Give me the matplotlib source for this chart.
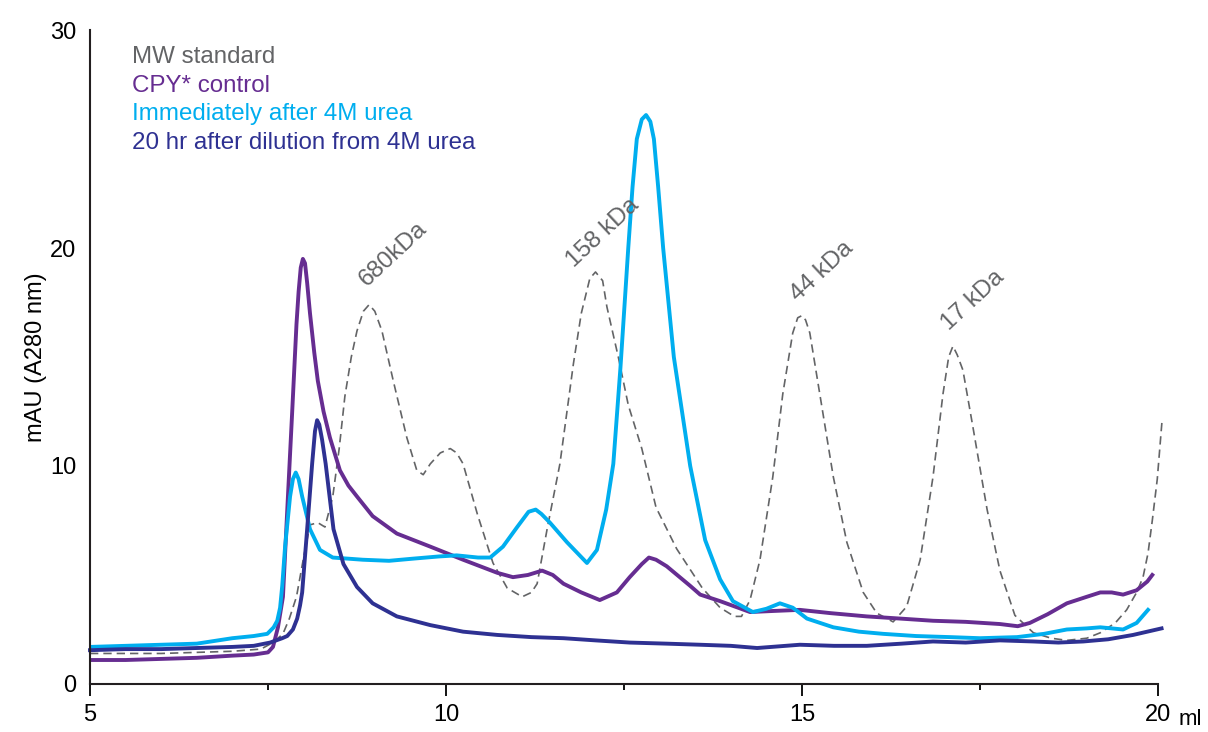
import numpy as np
import matplotlib
matplotlib.use('Agg')
import matplotlib.pyplot as plt

plt.rcParams['font.family'] = ['Liberation Sans', 'DejaVu Sans']

# elution volume (ml) / absorbance (mAU)
mw_ml = [5.0, 6.0, 7.0, 7.4, 7.57, 7.71, 7.8, 7.9, 8.0, 8.09, 8.2, 8.3, 8.41, 8.5, 8.58, 8.67,
         8.75, 8.84, 8.92, 9.0, 9.1, 9.26, 9.45, 9.59, 9.68, 9.78, 9.92, 10.06, 10.15, 10.24,
         10.44, 10.66, 10.86, 11.07, 11.2, 11.28, 11.42, 11.6, 11.79, 11.9, 12.02, 12.1, 12.2,
         12.26, 12.42, 12.56, 12.75, 12.95, 13.24, 13.6, 13.85, 14.05, 14.15, 14.27, 14.41,
         14.59, 14.73, 14.87, 14.94, 15.0, 15.05, 15.11, 15.25, 15.44, 15.63, 15.86, 16.05,
         16.28, 16.47, 16.66, 16.84, 16.98, 17.06, 17.12, 17.18, 17.26, 17.4, 17.6, 17.78,
         17.99, 18.25, 18.5, 18.72, 19.0, 19.19, 19.4, 19.56, 19.7, 19.79, 19.86, 19.92, 19.99,
         20.06]
mw_mau = [1.4, 1.4, 1.5, 1.6, 1.9, 2.3, 3.0, 4.0, 5.8, 7.3, 7.4, 7.2, 8.6, 10.8, 13.2, 15.0,
          16.2, 17.1, 17.4, 17.1, 16.2, 13.9, 11.3, 9.8, 9.6, 10.1, 10.6, 10.8, 10.6, 10.1,
          7.8, 5.55, 4.4, 4.0, 4.2, 4.6, 7.1, 10.1, 14.7, 17.0, 18.6, 18.9, 18.5,
          17.3, 15.0, 12.8, 10.8, 8.1, 6.2, 4.4, 3.5, 3.1, 3.1, 3.85, 5.7,
          9.5, 13.3, 16.1, 16.8, 16.9, 16.7, 16.1, 13.3, 9.5, 6.5, 4.2, 3.25,
          2.85, 3.55, 5.7, 9.5, 13.3, 15.0, 15.5, 15.1, 14.4, 11.8, 8.0, 5.2,
          3.15, 2.35, 2.1, 2.0, 2.1, 2.35, 2.8, 3.4, 4.2, 4.9, 6.0, 7.5, 9.4,
          12.2]

cpy_ml = [5.0, 5.5, 6.0, 6.5, 7.0, 7.3, 7.5, 7.57, 7.64, 7.71, 7.78, 7.84, 7.9, 7.93, 7.96,
          7.99, 8.02, 8.05, 8.09, 8.15, 8.2, 8.28, 8.37, 8.51, 8.63, 8.75, 8.97, 9.31, 9.78,
          10.24, 10.72, 10.94, 11.15, 11.35, 11.5, 11.65, 11.9, 12.16, 12.4, 12.58, 12.75,
          12.85, 12.95, 13.1, 13.43, 13.57, 13.85, 14.27, 14.6, 14.97, 15.4, 15.91, 16.38,
          16.84, 17.3, 17.54, 17.78, 18.03, 18.2, 18.45, 18.72, 19.0, 19.19, 19.35, 19.51,
          19.7, 19.85, 19.92]
cpy_mau = [1.1, 1.1, 1.15, 1.2, 1.3, 1.35, 1.45, 1.7, 2.6, 4.0, 8.6, 12.5, 16.5, 18.0, 19.1,
           19.5, 19.3, 18.4, 17.0, 15.2, 13.9, 12.5, 11.3, 9.8, 9.1, 8.6, 7.7, 6.9, 6.3,
           5.7, 5.1, 4.9, 5.0, 5.2, 5.0, 4.6, 4.2, 3.85, 4.2, 4.9, 5.5,
           5.8, 5.7, 5.4, 4.5, 4.1, 3.8, 3.3, 3.35, 3.4, 3.25, 3.1, 3.0,
           2.9, 2.85, 2.8, 2.75, 2.65, 2.8, 3.2, 3.7, 4.0, 4.2, 4.2, 4.1,
           4.3, 4.7, 5.0]

urea_ml = [5.0, 5.5, 6.0, 6.5, 7.0, 7.3, 7.49, 7.58, 7.63, 7.67, 7.7, 7.74, 7.81, 7.85, 7.89,
           7.93, 7.98, 8.09, 8.23, 8.41, 8.83, 9.2, 9.54, 9.9, 10.15, 10.45, 10.62, 10.8, 11.0,
           11.16, 11.26, 11.34, 11.46, 11.7, 11.98, 12.12, 12.25, 12.35, 12.45, 12.56, 12.62,
           12.68, 12.75, 12.81, 12.87, 12.92, 12.98, 13.05, 13.2, 13.43, 13.64, 13.85, 14.03,
           14.31, 14.5, 14.69, 14.87, 15.07, 15.44, 15.8, 16.14, 16.6, 17.08, 17.5, 18.02,
           18.4, 18.72, 19.0, 19.19, 19.35, 19.51, 19.7, 19.86]
urea_mau = [1.7, 1.75, 1.8, 1.85, 2.1, 2.2, 2.3, 2.6, 2.9, 3.5, 4.5, 6.3, 8.6, 9.4, 9.7,
            9.4, 8.6, 7.1, 6.15, 5.8, 5.7, 5.65, 5.75, 5.85, 5.9, 5.8, 5.8, 6.3, 7.2,
            7.9, 8.0, 7.8, 7.4, 6.5, 5.55, 6.15, 8.0, 10.1, 14.5, 20.0, 22.8,
            25.0, 25.9, 26.1, 25.8, 25.0, 22.8, 20.0, 15.0, 10.0, 6.6, 4.8, 3.8,
            3.3, 3.45, 3.7, 3.5, 3.0, 2.6, 2.4, 2.3, 2.2, 2.15, 2.1, 2.15,
            2.3, 2.5, 2.55, 2.6, 2.55, 2.5, 2.8, 3.4]

refold_ml = [5.0, 5.5, 6.0, 6.5, 7.0, 7.3, 7.53, 7.7, 7.77, 7.85, 7.91, 7.95, 7.98, 8.05, 8.12,
             8.16, 8.19, 8.22, 8.26, 8.31, 8.42, 8.56, 8.75, 8.97, 9.31, 9.78, 10.24, 10.72,
             11.2, 11.65, 12.1, 12.58, 13.1, 13.57, 14.0, 14.37, 14.97, 15.45, 15.91, 16.4,
             16.84, 17.3, 17.78, 18.25, 18.6, 18.95, 19.3, 19.65, 19.85, 20.05]
refold_mau = [1.55, 1.6, 1.6, 1.65, 1.7, 1.75, 1.9, 2.1, 2.2, 2.5, 3.0, 3.6, 4.2, 7.1, 10.1,
              11.6, 12.1, 11.9, 11.2, 10.1, 7.1, 5.5, 4.45, 3.7, 3.1, 2.7, 2.4, 2.25,
              2.15, 2.1, 2.0, 1.9, 1.85, 1.8, 1.75, 1.65, 1.8, 1.75, 1.75, 1.85,
              1.95, 1.9, 2.0, 1.95, 1.9, 1.95, 2.05, 2.25, 2.4, 2.55]

# standard peaks: label, position (ml), height (mAU)
std_labels = ['680kDa', '158 kDa', '44 kDa', '17 kDa']
std_label_ml = [8.88, 11.8, 14.95, 17.07]
std_label_mau = [18.2, 19.1, 17.5, 16.2]

GREY = '#636466'
PURPLE = '#662d91'
CYAN = '#00aeef'
NAVY = '#2e3192'

fig = plt.figure(figsize=(12.08, 7.32), dpi=100)
ax = fig.add_axes([0.0745, 0.0656, 0.8841, 0.8934])

ax.plot(mw_ml, mw_mau, color=GREY, lw=1.2, dashes=(5, 3), label='MW standard', clip_on=False)
ax.plot(cpy_ml, cpy_mau, color=PURPLE, lw=2.8, label='CPY* control')
ax.plot(urea_ml, urea_mau, color=CYAN, lw=2.8, label='Immediately after 4M urea')
ax.plot(refold_ml, refold_mau, color=NAVY, lw=2.8, label='20 hr after dilution from 4M urea',
        clip_on=False)

for lab, x, y in zip(std_labels, std_label_ml, std_label_mau):
    ax.text(x, y, lab, color=GREY, fontsize=17.5, rotation=43, rotation_mode='anchor',
            ha='left', va='baseline')

ax.set_xlim(5, 20)
ax.set_ylim(0, 30)
ax.set_xticks([5, 10, 15, 20])
ax.set_xticks([7.5, 12.5, 17.5], minor=True)
ax.set_yticks([0, 10, 20, 30])
ax.tick_params(axis='x', which='major', direction='out', length=8.5, width=1.3,
               labelsize=17, pad=6)
ax.tick_params(axis='x', which='minor', direction='out', length=4, width=1.3)
ax.tick_params(axis='y', length=0, labelsize=17, pad=10)

for side in ['top', 'right']:
    ax.spines[side].set_visible(False)
for side in ['left', 'bottom']:
    ax.spines[side].set_linewidth(1.5)
    ax.spines[side].set_color('#231f20')

ax.set_ylabel('mAU (A280 nm)', fontsize=17, labelpad=2)
ax.text(1.03, -0.055, 'ml', transform=ax.transAxes, fontsize=16, ha='center', va='center')

leg = ax.legend(loc='upper left', bbox_to_anchor=(0.03, 0.99), frameon=False,
                handlelength=0, handletextpad=0, labelcolor='linecolor', fontsize=17.4,
                labelspacing=0.27, borderaxespad=0)
for h in leg.legend_handles:
    h.set_visible(False)

fig.savefig('out.png', dpi=100)
